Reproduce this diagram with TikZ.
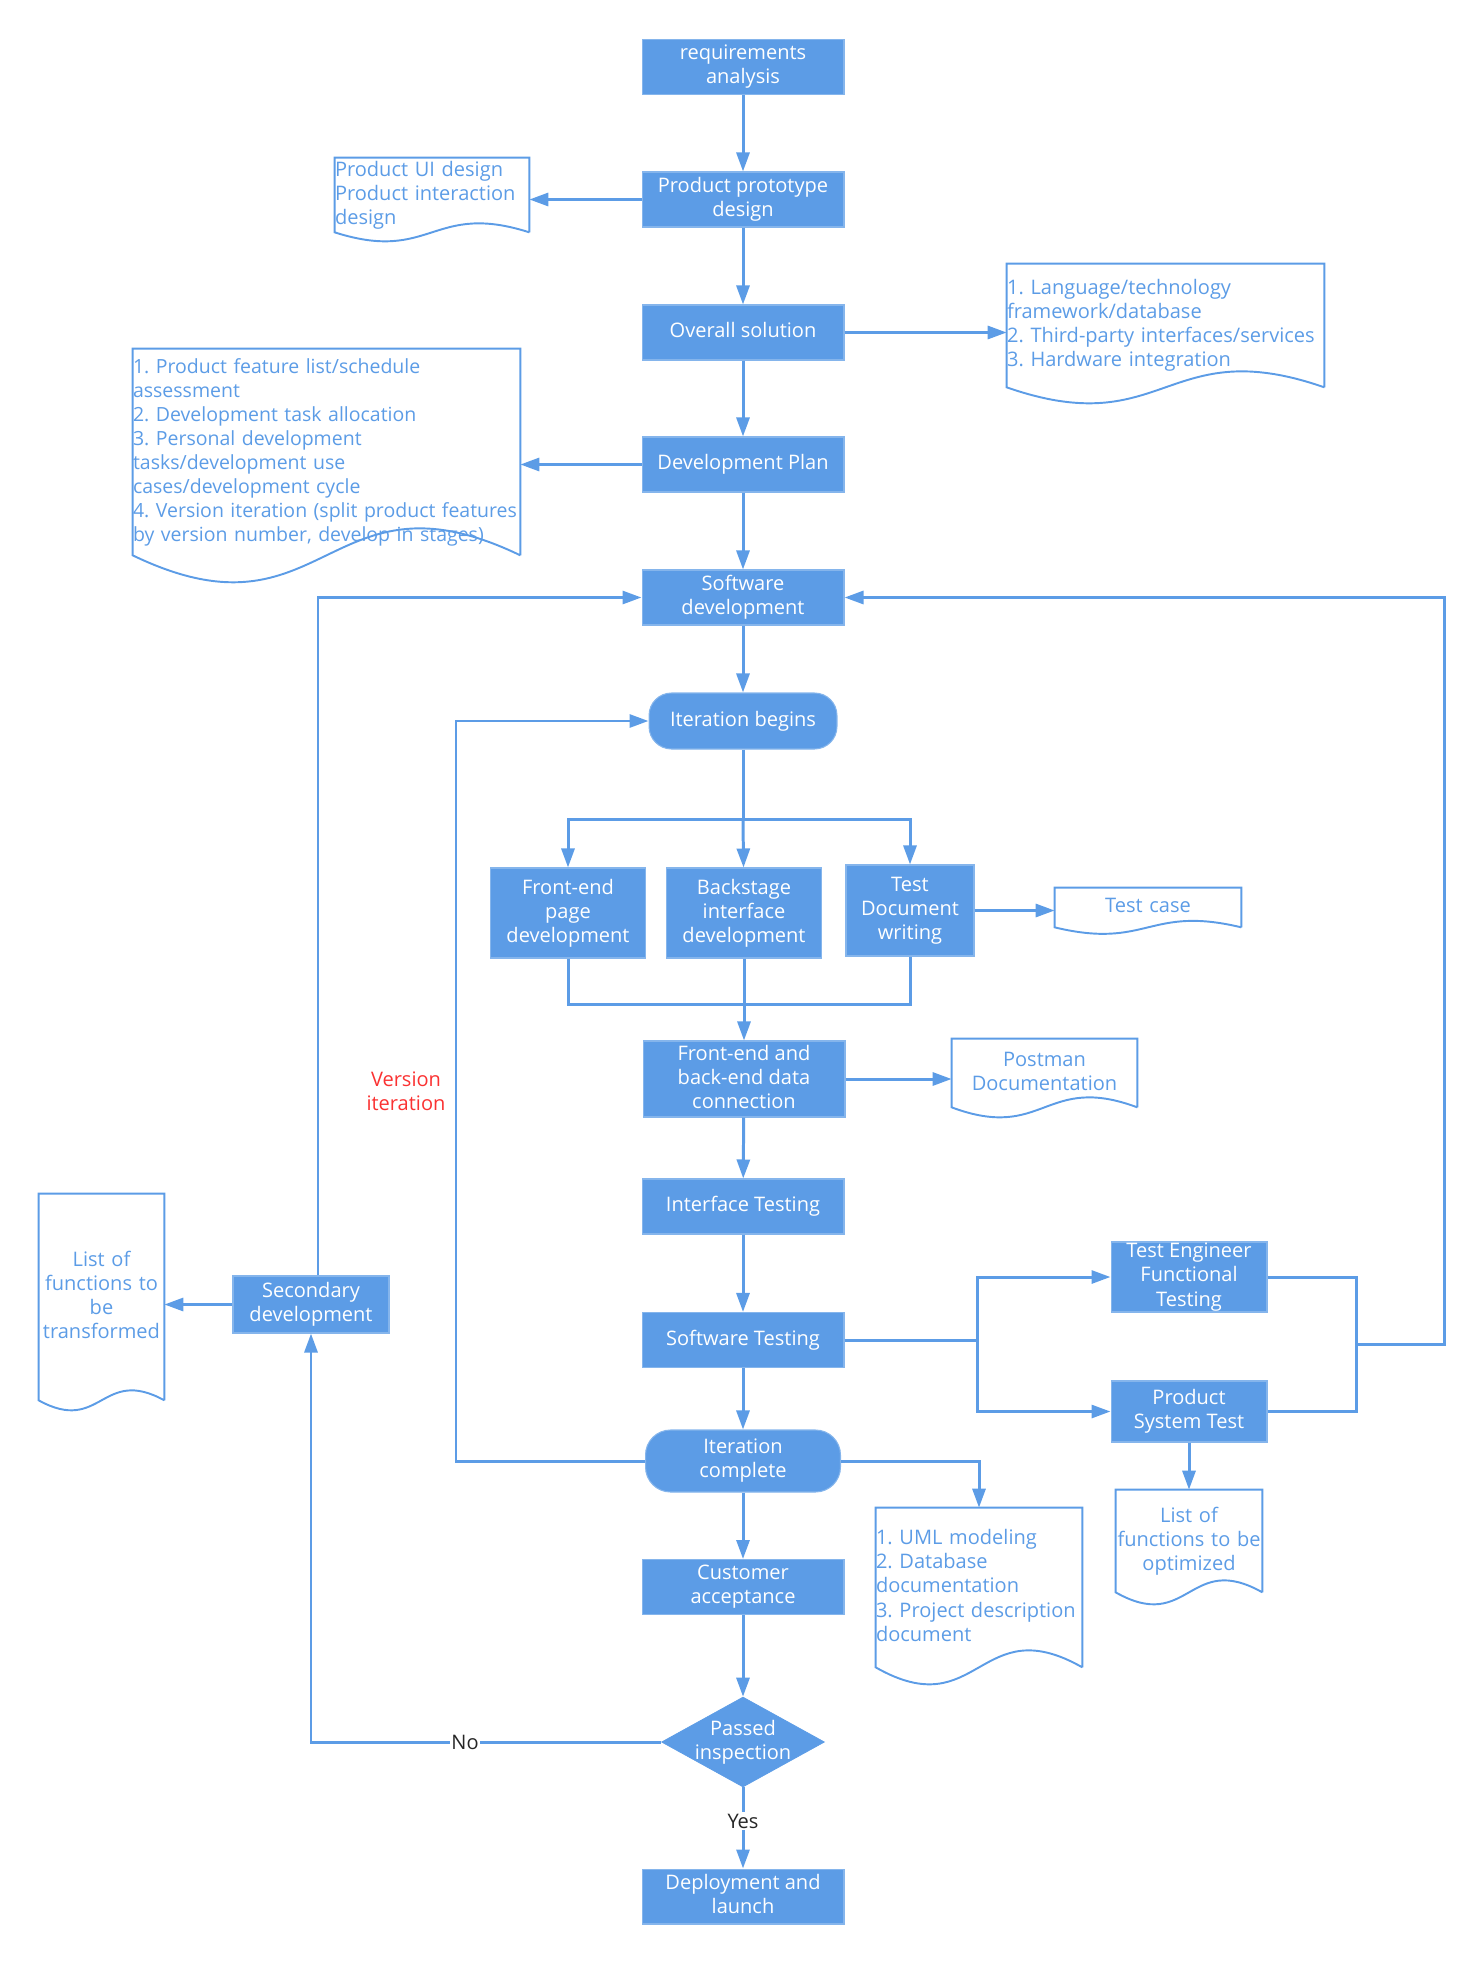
\documentclass[tikz,border=0pt]{standalone}
\usepackage{fontspec}
\setmainfont{Open Sans}
\usetikzlibrary{positioning, arrows.meta, shapes.geometric, calc}

\definecolor{flowblue}{RGB}{92,156,230}
\definecolor{iterred}{RGB}{250,50,50}
\newcommand{\flowfont}{\fontsize{11.4}{13.7}\selectfont}
\newcommand{\boxstrut}{\rule[-2.5pt]{0pt}{11.2pt}}
\frenchspacing

\begin{document}
\begin{tikzpicture}[x=0.02cm, y=-0.02cm,
        procbox/.style={rectangle, draw=flowblue!75!white, line width=0.6pt, fill=flowblue, text=white, minimum width=4.04cm, minimum height=1.1cm, inner sep=1pt, align=center, font=\flowfont, execute at begin node=\boxstrut, execute at end node=\boxstrut},
        roundbox/.style={procbox, rounded corners=0.45cm},
        decision/.style={diamond, fill=flowblue, draw=flowblue, inner sep=0pt, minimum width=3.26cm, minimum height=1.8cm},
        docnode/.style={rectangle, inner sep=0pt, text=flowblue, font=\flowfont, execute at begin node=\boxstrut, execute at end node=\boxstrut},
        docline/.style={draw=flowblue, line width=1.1pt},
        arr/.style={-{Triangle[length=0.38cm, width=0.26cm]}, line width=1.7pt, flowblue},
        conn/.style={line width=1.7pt, flowblue},
        lbl/.style={fill=white, inner sep=1pt, text=black!85, font=\flowfont},
    ]
    \useasboundingbox (0,0) rectangle (1481,1963);

    % Main flow
    \node[procbox] (req) at (743,67) {requirements\\analysis};
    \node[procbox] (proto) at (743,199.5) {Product prototype\\design};
    \node[procbox] (overall) at (743,332.5) {Overall solution};
    \node[procbox] (devplan) at (743,464.5) {Development Plan};
    \node[procbox] (sd) at (743,597.5) {Software\\development};
    \node[roundbox, minimum width=3.76cm, minimum height=1.12cm] (itb) at (743,721) {Iteration begins};

    % Parallel work
    \node[procbox, minimum width=3.1cm, minimum height=1.8cm] (fe) at (568,913) {Front-end\\page\\development};
    \node[procbox, minimum width=3.1cm, minimum height=1.8cm] (be) at (744,913) {Backstage\\interface\\development};
    \node[procbox, minimum width=2.56cm, minimum height=1.82cm] (td) at (910,910.5) {Test\\Document\\writing};
    \node[procbox, minimum height=1.52cm] (febe) at (744,1079) {Front-end and\\back-end data\\connection};
    \node[procbox] (itest) at (743,1206.5) {Interface Testing};
    \node[procbox] (stest) at (743,1340) {Software Testing};
    \node[procbox, minimum width=3.12cm, minimum height=1.4cm, inner ysep=0pt] (teft) at (1189,1277) {Test Engineer\\Functional\\Testing};
    \node[procbox, minimum width=3.12cm, minimum height=1.22cm] (pst) at (1189,1411.5) {Product\\System Test};
    \node[roundbox, minimum width=3.9cm, minimum height=1.24cm, rounded corners=0.5cm] (ic) at (743,1461) {Iteration\\complete};
    \node[procbox] (cust) at (743,1587) {Customer\\acceptance};
    \node[decision, label={[text=white, align=center, font=\flowfont, execute at begin node=\boxstrut, execute at end node=\boxstrut]center:{Passed\\inspection}}] (pass) at (743,1742) {};
    \node[procbox] (dep) at (743,1896.5) {Deployment and\\launch};
    \node[procbox, minimum width=3.12cm, minimum height=1.14cm] (sec) at (311,1304.5) {Secondary\\development};
    \node[text=iterred, font=\flowfont, align=center] (veriter) at (406,1091) {Version\\iteration};

    % Documents
    \node[docnode, text width=3.88cm, minimum height=1.48cm, align=left] (uidoc) at (432,195) {Product UI design\\Product interaction\\design};
    \node[docnode, text width=6.34cm, minimum height=2.46cm, align=left] (techdoc) at (1165.5,325.5) {1. Language/technology\\framework/database\\\mbox{2. Third-party interfaces/services}\\3. Hardware integration};
    \node[docnode, text width=7.74cm, minimum height=4.12cm, align=left, font=\fontsize{11.1}{13.7}\selectfont] (plandoc) at (326.5,452) {1. Product feature list/schedule\\assessment\\2. Development task allocation\\3. Personal development\\tasks/development use\\cases/development cycle\\\mbox{4. Version iteration (split product features}\\\mbox{by version number, develop in stages)}};
    \node[docnode, text width=3.72cm, minimum height=0.78cm, align=center] (tcdoc) at (1148,907.5) {Test case};
    \node[docnode, text width=3.7cm, minimum height=1.36cm, align=center] (pmdoc) at (1044.5,1073) {Postman\\Documentation};
    \node[docnode, text width=4.12cm, minimum height=3.18cm, align=left] (umldoc) at (979,1587.5) {1. UML modeling\\2. Database\\documentation\\\mbox{3. Project description}\\document};
    \node[docnode, text width=2.92cm, minimum height=2.04cm, align=center] (optdoc) at (1189,1541) {List of\\\mbox{functions to be}\\optimized};
    \node[docnode, text width=2.5cm, minimum height=4.12cm, align=center] (trdoc) at (101.5,1297) {List of\\functions to\\be\\transformed};

    % Document outlines with wavy bottom
    \foreach \d/\a in {uidoc/9, techdoc/16, plandoc/27, tcdoc/6.5, pmdoc/10, umldoc/17, optdoc/12, trdoc/10}
        \draw[docline] (\d.south east) -- (\d.north east) -- (\d.north west) -- (\d.south west)
            .. controls ($(\d.south)+(0,{3.46*\a})$) and ($(\d.south)+(0,{-3.46*\a})$) .. (\d.south east);

    % Arrows
    \draw[arr] (req) -- (proto);
    \draw[arr] (proto) -- (overall);
    \draw[arr] (overall) -- (devplan);
    \draw[arr] (devplan) -- (sd);
    \draw[arr] (sd) -- (itb);
    \draw[arr] (proto.west) -- (proto.west -| uidoc.east);
    \draw[arr] (overall.east) -- (overall.east -| techdoc.west);
    \draw[arr] (devplan.west) -- (devplan.west -| plandoc.east);

    \coordinate (split) at (743,819);
    \draw[conn] (itb) -- (split);
    \draw[arr] (split) -| (fe.north);
    \draw[arr] (split) -- (be);
    \draw[arr] (split) -| (td.north);
    \coordinate (merge) at (744,1004);
    \draw[conn] (fe.south) |- (merge) -| (td.south);
    \draw[arr] (be) -- (febe);
    \draw[arr] (td.east) -- (td.east -| tcdoc.west);
    \draw[arr] (febe.east) -- (febe.east -| pmdoc.west);
    \draw[arr] (febe) -- (itest);
    \draw[arr] (itest) -- (stest);
    \draw[arr] (stest) -- (ic);
    \draw[arr] (ic) -- (cust);
    \draw[arr] (cust) -- (pass);
    \draw[arr] (pass) -- node[lbl, pos=0.42] (yes) {Yes} (dep);

    % Testing branches and feedback
    \coordinate (tsplit) at (977,1340);
    \draw[conn] (stest) -- (tsplit);
    \draw[arr] (tsplit) |- (teft);
    \draw[arr] (tsplit) |- (pst);
    \draw[arr] (pst) -- (optdoc);
    \coordinate (tjoin) at (1356,1344);
    \draw[conn] (teft) -| (tjoin);
    \draw[conn] (pst) -| (tjoin);
    \draw[arr] (tjoin) -- ++(88,0) |- (sd);

    % Iteration loop
    \draw[arr] (ic.west) -- ++(-189,0) |- (itb.west);
    \draw[arr] (ic.east) -| (umldoc.north);

    % Failed inspection
    \draw[arr] (pass.west) -| node[lbl, pos=0.28] (no) {No} (sec.south);
    \draw[arr] (sec.west) -- (sec.west -| trdoc.east);
    \draw[arr] ([xshift=0.14cm]sec.north) |- (sd.west);
\end{tikzpicture}
\end{document}
